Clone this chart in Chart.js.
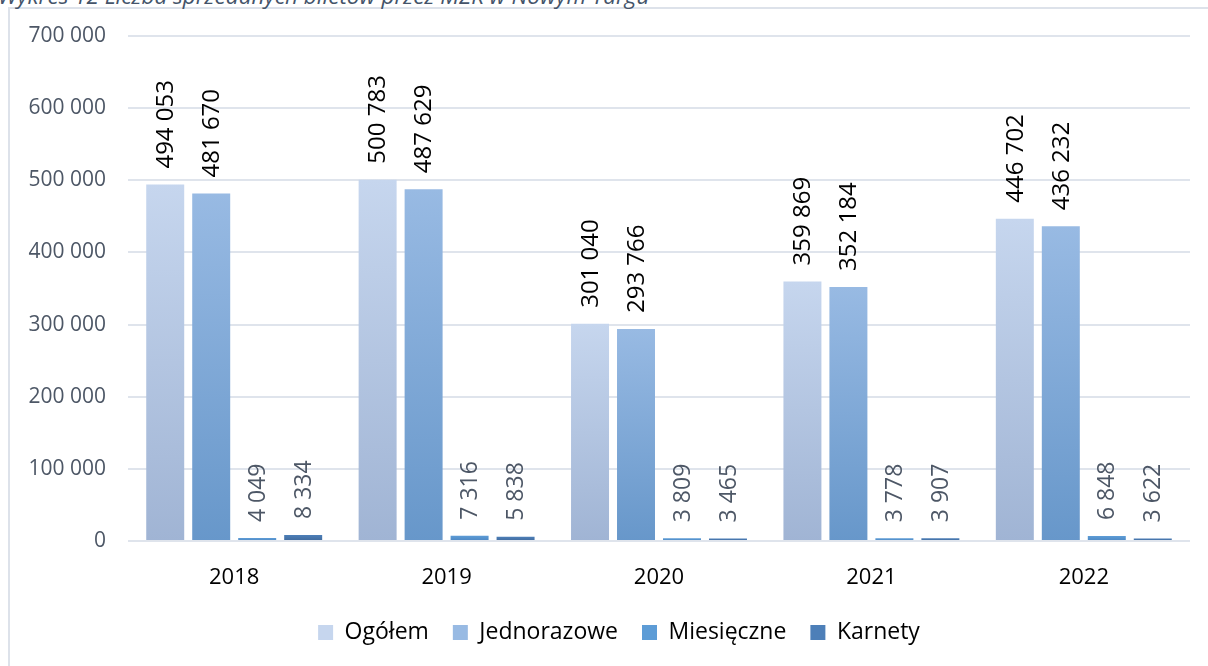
<!DOCTYPE html>
<html>
<head>
<meta charset="utf-8">
<script src="https://cdn.jsdelivr.net/npm/chart.js@4/dist/chart.umd.min.js"></script>
<style>
  html, body { margin: 0; padding: 0; background: #ffffff; overflow: hidden; }
  #wrap { position: relative; width: 1208px; height: 666px; overflow: hidden; }
  #frame { position: absolute; left: 8px; top: 7px; width: 1300px; height: 700px; border: 2px solid #dde2ea; box-sizing: border-box; }
  #title { position: absolute; left: -2px; top: -20px; font-family: "Open Sans", sans-serif; font-style: italic; font-size: 22.5px; color: #44546a; white-space: nowrap; }
  canvas { position: absolute; left: 0; top: 0; }
</style>
</head>
<body>
<div id="wrap">
  <div id="frame"></div>
  <div id="title">Wykres 12 Liczba sprzedanych biletów przez MZK w Nowym Targu</div>
  <canvas id="c" width="1208" height="666"></canvas>
</div>
<script>
const categories = ["2018", "2019", "2020", "2021", "2022"];
const seriesNames = ["Ogółem", "Jednorazowe", "Miesięczne", "Karnety"];
const ogolem = [494053, 500783, 301040, 359869, 446702];
const jednorazowe = [481670, 487629, 293766, 352184, 436232];
const miesieczne = [4049, 7316, 3809, 3778, 6848];
const karnety = [8334, 5838, 3465, 3907, 3622];
const yTicks = [0, 100000, 200000, 300000, 400000, 500000, 600000, 700000];

const seriesValues = [ogolem, jednorazowe, miesieczne, karnety];
const gradStops = [
  ["#c6d6ee", "#a0b4d4"],
  ["#98bae3", "#6797ca"],
  ["#5d9cd6", "#4c86c2"],
  ["#4d7fb8", "#40699c"]
];
const labelStyle = [
  { color: "#000000", size: 24 },
  { color: "#000000", size: 24 },
  { color: "#4d5766", size: 23 },
  { color: "#4d5766", size: 23 }
];

function fmt(v) {
  return String(v).replace(/\B(?=(\d{3})+(?!\d))/g, " ");
}

function makeBg(i) {
  return function (ctx) {
    const chart = ctx.chart;
    if (ctx.type !== "data" || !chart.chartArea) return gradStops[i][0];
    const y = chart.scales.y;
    const top = y.getPixelForValue(ctx.raw);
    const bot = y.getPixelForValue(0);
    if (!isFinite(top) || !isFinite(bot) || bot - top < 1) return gradStops[i][1];
    const g = chart.ctx.createLinearGradient(0, top, 0, bot);
    g.addColorStop(0, gradStops[i][0]);
    g.addColorStop(1, gradStops[i][1]);
    return g;
  };
}

const valueLabels = {
  id: "valueLabels",
  afterDatasetsDraw(chart) {
    const c = chart.ctx;
    chart.data.datasets.forEach((ds, i) => {
      const meta = chart.getDatasetMeta(i);
      meta.data.forEach((bar, j) => {
        const st = labelStyle[i];
        c.save();
        c.translate(bar.x, bar.y - 16);
        c.rotate(-Math.PI / 2);
        c.font = st.size + 'px "Open Sans", sans-serif';
        c.fillStyle = st.color;
        c.textAlign = "left";
        c.textBaseline = "middle";
        c.fillText(fmt(ds.data[j]), 0, 1);
        c.restore();
      });
    });
  }
};

const legendShift = {
  id: "legendShift",
  afterLayout(chart) {
    const lg = chart.legend;
    if (lg) {
      lg.left += 24;
      lg.right += 24;
    }
  }
};

new Chart(document.getElementById("c"), {
  type: "bar",
  data: {
    labels: categories,
    datasets: seriesNames.map((name, i) => ({
      label: name,
      data: seriesValues[i],
      backgroundColor: makeBg(i),
      borderWidth: 0,
      categoryPercentage: 0.866,
      barPercentage: 0.826
    }))
  },
  options: {
    responsive: false,
    animation: false,
    devicePixelRatio: 1,
    layout: { padding: { left: 0, right: 18, top: 36, bottom: 12 } },
    plugins: {
      legend: {
        position: "bottom",
        labels: {
          boxWidth: 15,
          boxHeight: 15,
          padding: 24,
          color: "#000000",
          font: { family: "Open Sans", size: 23 },
          generateLabels(chart) {
            return chart.data.datasets.map((ds, i) => ({
              text: ds.label,
              fillStyle: gradStops[i][0],
              strokeStyle: gradStops[i][0],
              lineWidth: 0,
              datasetIndex: i,
              hidden: false,
              fontColor: "#000000"
            }));
          }
        }
      },
      tooltip: { enabled: false }
    },
    scales: {
      x: {
        grid: { display: false },
        border: { display: false },
        ticks: { color: "#000000", font: { family: "Open Sans", size: 22 }, padding: 16 },
        afterFit(s) { s.height = 56; }
      },
      y: {
        min: 0,
        max: 700000,
        afterBuildTicks(s) { s.ticks = yTicks.map(v => ({ value: v })); },
        ticks: {
          color: "#4d5766",
          font: { family: "Open Sans", size: 21 },
          padding: 22,
          callback: (v) => fmt(v)
        },
        grid: { color: "#dfe4ec", lineWidth: 2, drawTicks: false },
        border: { display: false },
        afterFit(s) { s.width = 128; }
      }
    }
  },
  plugins: [valueLabels, legendShift]
});
</script>
</body>
</html>
